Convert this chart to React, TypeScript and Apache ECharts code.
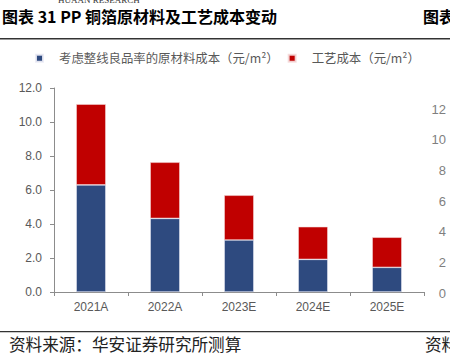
import React, { useEffect, useRef } from "react";
import * as echarts from "echarts";

const categories = ["2021A", "2022A", "2023E", "2024E", "2025E"];
const materialCost = [6.3, 4.33, 3.06, 1.92, 1.45];
const processCost = [4.75, 3.3, 2.63, 1.92, 1.77];
const seriesNames = ["考虑整线良品率的原材料成本（元/m²）", "工艺成本（元/m²）"];
const titleText = "图表 31 PP 铜箔原材料及工艺成本变动";
const sourceText = "资料来源：华安证券研究所测算";

export default function App() {
  const ref = useRef<HTMLDivElement>(null);
  useEffect(() => {
    if (!ref.current) return;
    const chart = echarts.init(ref.current, null, { renderer: "svg" });
    const font = "Arial, 'Liberation Sans', 'Noto Sans CJK SC', sans-serif";
    const cjk = "'Noto Sans CJK SC', sans-serif";
    chart.setOption({
      animation: false,
      backgroundColor: "#ffffff",
      textStyle: { fontFamily: font },
      legend: {
        top: 47,
        left: 30,
        itemWidth: 7,
        itemHeight: 7,
        itemGap: 9,
        icon: "rect",
        textStyle: {
          fontSize: 12.4,
          color: "#595959",
          fontFamily: cjk,
          padding: [0, 0, 0, 11],
        },
        data: seriesNames,
      },
      grid: [
        { left: 54, top: 88, width: 370, height: 204 },
        { left: 449, top: 109, width: 1, height: 184 },
      ],
      xAxis: [
        {
          type: "category",
          gridIndex: 0,
          data: categories,
          axisLine: { lineStyle: { color: "#8c8c8c", width: 1 } },
          axisTick: { show: true, length: 4, lineStyle: { color: "#8c8c8c" } },
          axisLabel: { color: "#595959", fontSize: 12, margin: 9, fontFamily: font },
        },
        { type: "category", gridIndex: 1, show: false, data: [""] },
      ],
      yAxis: [
        {
          type: "value",
          gridIndex: 0,
          min: 0,
          max: 12,
          interval: 2,
          splitLine: { show: false },
          axisLine: { show: true, lineStyle: { color: "#8c8c8c" } },
          axisTick: { show: true, length: 4, lineStyle: { color: "#8c8c8c" } },
          axisLabel: {
            color: "#595959",
            fontSize: 12,
            margin: 12,
            fontFamily: font,
            formatter: (v: number) => v.toFixed(1),
          },
        },
        {
          type: "value",
          gridIndex: 1,
          min: 0,
          max: 12,
          interval: 2,
          splitLine: { show: false },
          axisLine: { show: false },
          axisTick: { show: false },
          axisLabel: { color: "#7f7f7f", fontSize: 13, margin: 3, fontFamily: font },
        },
      ],
      series: [
        {
          name: seriesNames[0],
          type: "bar",
          stack: "cost",
          data: materialCost,
          barWidth: "40%",
          itemStyle: { color: "#2E4A7F", borderColor: "rgba(235,235,245,0.9)", borderWidth: 0.6 },
        },
        {
          name: seriesNames[1],
          type: "bar",
          stack: "cost",
          data: processCost,
          barWidth: "40%",
          itemStyle: { color: "#C00000", borderColor: "rgba(245,220,220,0.9)", borderWidth: 0.6 },
        },
      ],
      graphic: [
        {
          type: "text",
          left: 58,
          top: -5,
          style: { text: "HUAAN RESEARCH", fontSize: 9, fill: "#333", fontFamily: "'Liberation Serif', serif" },
        },
        {
          type: "text",
          left: 2,
          top: 8,
          style: { text: titleText, fontSize: 16, fontWeight: "bold", fill: "#000", fontFamily: cjk },
        },
        {
          type: "text",
          left: 423,
          top: 8,
          style: { text: "图表", fontSize: 16, fontWeight: "bold", fill: "#000", fontFamily: cjk },
        },
        {
          type: "rect",
          shape: { x: 0, y: 38, width: 450, height: 1.5 },
          style: { fill: "#333" },
        },
        {
          type: "rect",
          shape: { x: 0, y: 331, width: 450, height: 1.2 },
          style: { fill: "#333" },
        },
        {
          type: "text",
          left: 9,
          top: 336,
          style: { text: sourceText, fontSize: 16.6, fill: "#222", fontFamily: cjk },
        },
        {
          type: "text",
          left: 425,
          top: 336,
          style: { text: "资料", fontSize: 16.6, fill: "#222", fontFamily: cjk },
        },
      ],
    });
    return () => chart.dispose();
  }, []);
  return (
    <div
      ref={ref}
      style={{ position: "fixed", left: 0, top: 0, width: 450, height: 360 }}
    />
  );
}
